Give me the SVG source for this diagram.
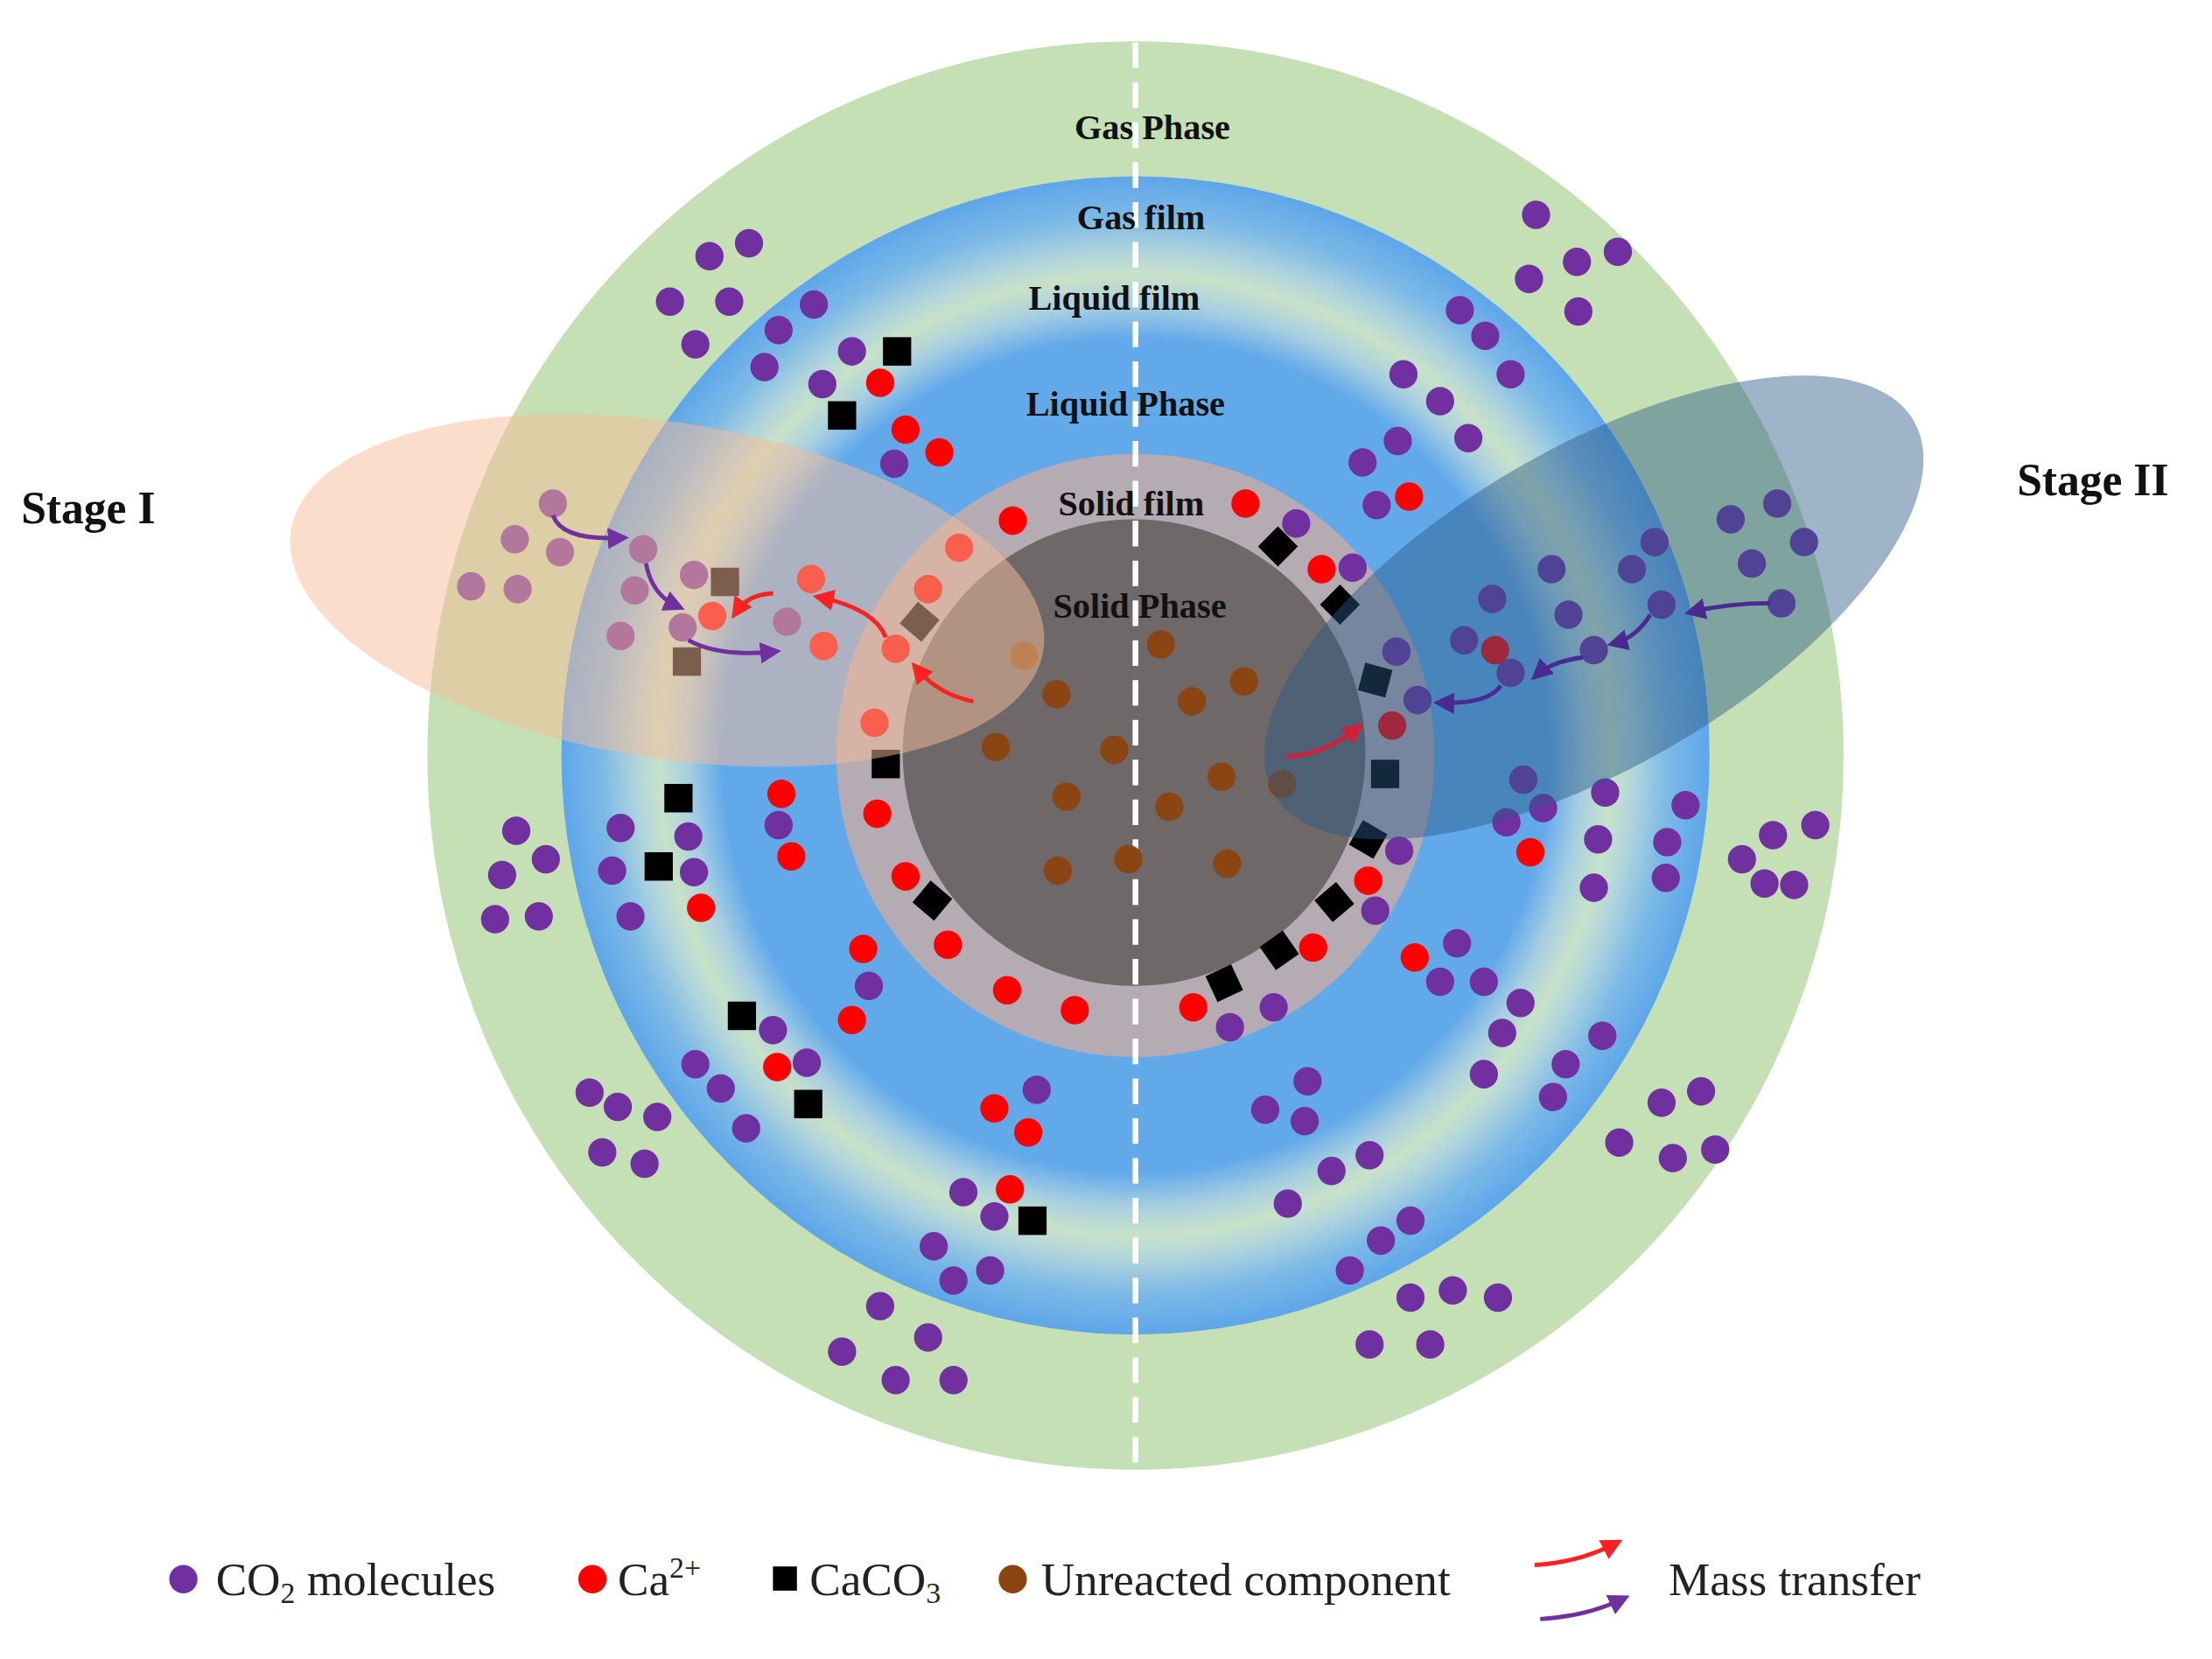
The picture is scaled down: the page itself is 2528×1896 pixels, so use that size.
<svg xmlns="http://www.w3.org/2000/svg" width="2528" height="1896" viewBox="0 0 2528 1896">
<style>
.lab{font-family:"Liberation Serif","Times New Roman",serif;font-weight:bold;font-size:25px;fill:#111;text-anchor:middle}
.stage{font-family:"Liberation Serif","Times New Roman",serif;font-weight:bold;font-size:32px;fill:#111}
.leg{font-family:"Liberation Serif","Times New Roman",serif;font-size:33px;fill:#222}
.co2{fill:#7030a0}
.ca{fill:#ff0000}
.br{fill:#8b4513}
.sq{fill:#000}
.pa{fill:none;stroke:#7030a0;stroke-width:3}
.ra{fill:none;stroke:#ff2020;stroke-width:3}
</style>
<defs>
<radialGradient id="film" gradientUnits="userSpaceOnUse" cx="805" cy="531" r="407">
<stop offset="0.72" stop-color="#62a9ea"/>
<stop offset="0.78" stop-color="#a8cfe0"/>
<stop offset="0.83" stop-color="#c8e2c8"/>
<stop offset="0.87" stop-color="#b0d4dc"/>
<stop offset="0.93" stop-color="#7cb9e6"/>
<stop offset="1" stop-color="#5ea6ea"/>
</radialGradient>
<marker id="mp" viewBox="0 0 10 10" refX="6" refY="5" markerWidth="5" markerHeight="5" orient="auto"><path d="M0,0 L10,5 L0,10 z" fill="#7030a0"/></marker>
<marker id="mq" viewBox="0 0 10 10" refX="6" refY="5" markerWidth="5" markerHeight="5" orient="auto"><path d="M0,0 L10,5 L0,10 z" fill="#4a2a90"/></marker>
<marker id="mr" viewBox="0 0 10 10" refX="6" refY="5" markerWidth="5" markerHeight="5" orient="auto"><path d="M0,0 L10,5 L0,10 z" fill="#ff2020"/></marker>
<marker id="ms" viewBox="0 0 10 10" refX="6" refY="5" markerWidth="5" markerHeight="5" orient="auto"><path d="M0,0 L10,5 L0,10 z" fill="#d0203a"/></marker>
</defs>
<rect width="2528" height="1896" fill="#fff"/>
<g transform="scale(1.612,1.626)">
<g id="rings">
<circle cx="805" cy="531" r="502" fill="#c5e0b4"/>
<circle cx="805" cy="531" r="407" fill="url(#film)"/>
<circle cx="805" cy="531" r="212" fill="#b4acb2"/>
<circle cx="804" cy="529" r="164" fill="#6e6968"/>
<line x1="805" y1="30" x2="805" y2="1032" stroke="#fff" stroke-width="4" stroke-dasharray="18,10"/>
</g>
<g id="co2">
<g class="co2">
<circle cx="503" cy="180" r="10"/><circle cx="531" cy="171" r="10"/><circle cx="475" cy="212" r="10"/><circle cx="517" cy="212" r="10"/><circle cx="493" cy="242" r="10"/><circle cx="552" cy="232" r="10"/><circle cx="577" cy="214" r="10"/><circle cx="542" cy="258" r="10"/><circle cx="604" cy="247" r="10"/><circle cx="583" cy="270" r="10"/><circle cx="634" cy="326" r="10"/>
<circle cx="366" cy="584" r="10"/><circle cx="387" cy="604" r="10"/><circle cx="356" cy="615" r="10"/><circle cx="351" cy="646" r="10"/><circle cx="382" cy="644" r="10"/><circle cx="440" cy="582" r="10"/><circle cx="488" cy="588" r="10"/><circle cx="434" cy="612" r="10"/><circle cx="492" cy="613" r="10"/><circle cx="447" cy="644" r="10"/><circle cx="552" cy="580" r="10"/><circle cx="616" cy="693" r="10"/>
<circle cx="548" cy="724" r="10"/><circle cx="572" cy="747" r="10"/><circle cx="493" cy="748" r="10"/><circle cx="511" cy="765" r="10"/><circle cx="529" cy="793" r="10"/><circle cx="418" cy="768" r="10"/><circle cx="438" cy="778" r="10"/><circle cx="466" cy="785" r="10"/><circle cx="427" cy="810" r="10"/><circle cx="457" cy="818" r="10"/><circle cx="735" cy="766" r="10"/><circle cx="683" cy="838" r="10"/><circle cx="705" cy="855" r="10"/><circle cx="662" cy="876" r="10"/><circle cx="702" cy="893" r="10"/><circle cx="676" cy="900" r="10"/><circle cx="624" cy="918" r="10"/><circle cx="658" cy="940" r="10"/><circle cx="597" cy="950" r="10"/><circle cx="635" cy="970" r="10"/><circle cx="676" cy="970" r="10"/>
<circle cx="1089" cy="151" r="10"/><circle cx="1118" cy="184" r="10"/><circle cx="1147" cy="177" r="10"/><circle cx="1084" cy="196" r="10"/><circle cx="1119" cy="219" r="10"/><circle cx="1035" cy="218" r="10"/><circle cx="1053" cy="236" r="10"/><circle cx="1071" cy="263" r="10"/><circle cx="995" cy="263" r="10"/><circle cx="1021" cy="282" r="10"/><circle cx="1041" cy="308" r="10"/><circle cx="966" cy="325" r="10"/><circle cx="991" cy="310" r="10"/><circle cx="976" cy="355" r="10"/><circle cx="919" cy="368" r="10"/><circle cx="959" cy="399" r="10"/><circle cx="990" cy="458" r="10"/><circle cx="1005" cy="492" r="10"/>
<circle cx="1058" cy="421" r="10"/><circle cx="1100" cy="400" r="10"/><circle cx="1112" cy="432" r="10"/><circle cx="1157" cy="400" r="10"/><circle cx="1173" cy="381" r="10"/><circle cx="1227" cy="365" r="10"/><circle cx="1260" cy="354" r="10"/><circle cx="1279" cy="381" r="10"/><circle cx="1242" cy="396" r="10"/><circle cx="1263" cy="424" r="10"/><circle cx="1178" cy="425" r="10"/><circle cx="1130" cy="457" r="10"/><circle cx="1071" cy="473" r="10"/><circle cx="1038" cy="450" r="10"/>
<circle cx="1080" cy="548" r="10"/><circle cx="1094" cy="568" r="10"/><circle cx="1068" cy="578" r="10"/><circle cx="1138" cy="557" r="10"/><circle cx="1133" cy="590" r="10"/><circle cx="1130" cy="624" r="10"/><circle cx="1195" cy="566" r="10"/><circle cx="1182" cy="592" r="10"/><circle cx="1181" cy="617" r="10"/><circle cx="1235" cy="604" r="10"/><circle cx="1257" cy="587" r="10"/><circle cx="1287" cy="580" r="10"/><circle cx="1251" cy="621" r="10"/><circle cx="1272" cy="622" r="10"/><circle cx="992" cy="598" r="10"/><circle cx="975" cy="640" r="10"/>
<circle cx="1033" cy="663" r="10"/><circle cx="1021" cy="690" r="10"/><circle cx="1052" cy="690" r="10"/><circle cx="1078" cy="705" r="10"/><circle cx="1065" cy="726" r="10"/><circle cx="1052" cy="755" r="10"/><circle cx="1110" cy="748" r="10"/><circle cx="1136" cy="728" r="10"/><circle cx="1101" cy="771" r="10"/><circle cx="1178" cy="775" r="10"/><circle cx="1206" cy="767" r="10"/><circle cx="1148" cy="803" r="10"/><circle cx="1186" cy="814" r="10"/><circle cx="1216" cy="808" r="10"/>
<circle cx="872" cy="722" r="10"/><circle cx="903" cy="708" r="10"/><circle cx="927" cy="760" r="10"/><circle cx="897" cy="780" r="10"/><circle cx="925" cy="788" r="10"/><circle cx="971" cy="812" r="10"/><circle cx="944" cy="823" r="10"/><circle cx="913" cy="846" r="10"/><circle cx="979" cy="872" r="10"/><circle cx="1000" cy="858" r="10"/><circle cx="957" cy="893" r="10"/><circle cx="1000" cy="912" r="10"/><circle cx="1030" cy="907" r="10"/><circle cx="1062" cy="912" r="10"/><circle cx="971" cy="945" r="10"/><circle cx="1014" cy="945" r="10"/>
<circle cx="392" cy="354" r="10"/><circle cx="365" cy="379" r="10"/><circle cx="397" cy="388" r="10"/><circle cx="334" cy="412" r="10"/><circle cx="367" cy="414" r="10"/><circle cx="456" cy="386" r="10"/><circle cx="492" cy="404" r="10"/><circle cx="450" cy="415" r="10"/><circle cx="440" cy="447" r="10"/><circle cx="484" cy="441" r="10"/><circle cx="558" cy="437" r="10"/>
</g>
</g>
<g id="ca" class="ca">
<circle cx="624" cy="269" r="10"/><circle cx="642" cy="302" r="10"/><circle cx="666" cy="318" r="10"/><circle cx="718" cy="366" r="10"/><circle cx="883" cy="354" r="10"/><circle cx="999" cy="349" r="10"/><circle cx="937" cy="400" r="10"/><circle cx="680" cy="385" r="10"/><circle cx="658" cy="414" r="10"/><circle cx="575" cy="407" r="10"/><circle cx="505" cy="433" r="10"/><circle cx="584" cy="454" r="10"/><circle cx="635" cy="456" r="10"/><circle cx="620" cy="508" r="10"/><circle cx="622" cy="572" r="10"/><circle cx="642" cy="616" r="10"/><circle cx="672" cy="664" r="10"/><circle cx="714" cy="696" r="10"/><circle cx="762" cy="710" r="10"/><circle cx="846" cy="708" r="10"/><circle cx="931" cy="666" r="10"/><circle cx="970" cy="619" r="10"/><circle cx="1060" cy="457" r="10"/><circle cx="987" cy="510" r="10"/><circle cx="1085" cy="599" r="10"/><circle cx="1003" cy="673" r="10"/><circle cx="554" cy="558" r="10"/><circle cx="561" cy="602" r="10"/><circle cx="497" cy="638" r="10"/><circle cx="612" cy="667" r="10"/><circle cx="604" cy="717" r="10"/><circle cx="551" cy="750" r="10"/><circle cx="705" cy="779" r="10"/><circle cx="729" cy="796" r="10"/><circle cx="716" cy="836" r="10"/>
</g>
<g id="caco3" class="sq">
<rect x="626" y="237" width="20" height="20"/><rect x="587" y="282" width="20" height="20"/><rect x="504" y="399" width="20" height="20"/><rect x="477" y="455" width="20" height="20"/><rect x="642" y="427" width="20" height="20" transform="rotate(40 652 437)"/><rect x="618" y="527" width="20" height="20"/><rect x="471" y="551" width="20" height="20"/><rect x="457" y="599" width="20" height="20"/><rect x="516" y="704" width="20" height="20"/><rect x="563" y="766" width="20" height="20"/><rect x="722" y="848" width="20" height="20"/>
<rect x="651" y="623" width="20" height="20" transform="rotate(40 661 633)"/><rect x="897" y="658" width="20" height="20" transform="rotate(-35 907 668)"/><rect x="858" y="681" width="20" height="20" transform="rotate(-25 868 691)"/><rect x="936" y="624" width="20" height="20" transform="rotate(-40 946 634)"/><rect x="960" y="580" width="20" height="20" transform="rotate(-60 970 590)"/><rect x="972" y="534" width="20" height="20"/><rect x="965" y="468" width="20" height="20" transform="rotate(15 975 478)"/><rect x="940" y="415" width="20" height="20" transform="rotate(45 950 425)"/><rect x="896" y="374" width="20" height="20" transform="rotate(45 906 384)"/>
</g>
<g id="unreacted" class="br">
<circle cx="823" cy="453" r="10"/><circle cx="726" cy="461" r="10"/><circle cx="749" cy="488" r="10"/><circle cx="882" cy="479" r="10"/><circle cx="845" cy="493" r="10"/><circle cx="706" cy="525" r="10"/><circle cx="790" cy="527" r="10"/><circle cx="909" cy="551" r="10"/><circle cx="866" cy="546" r="10"/><circle cx="756" cy="560" r="10"/><circle cx="829" cy="567" r="10"/><circle cx="800" cy="604" r="10"/><circle cx="750" cy="612" r="10"/><circle cx="870" cy="607" r="10"/>
</g>
<g id="labels">
<text class="lab" x="817" y="98">Gas Phase</text>
<text class="lab" x="809" y="161">Gas film</text>
<text class="lab" x="790" y="218">Liquid film</text>
<text class="lab" x="798" y="292">Liquid Phase</text>
<text class="lab" x="802" y="362">Solid film</text>
<text class="lab" x="808" y="434">Solid Phase</text>
</g>
<g id="stage1"><ellipse cx="473" cy="415" rx="270" ry="118" transform="rotate(9 473 415)" fill="#f5bc98" fill-opacity="0.5"/></g>
<g id="stage2"><ellipse cx="1130" cy="427" rx="262" ry="112" transform="rotate(-30 1130 427)" fill="#2a5884" fill-opacity="0.45"/></g>
<g id="connectors">
<path class="pa" d="M392,362 Q398,380 440,378" marker-end="url(#mp)"/>
<path class="pa" d="M458,396 Q462,418 480,426" marker-end="url(#mp)"/>
<path class="pa" d="M488,450 Q510,462 548,458" marker-end="url(#mp)"/>
<path class="ra" d="M548,417 Q530,418 522,430" marker-end="url(#mr)"/>
<path class="ra" d="M628,448 Q620,428 582,420" marker-end="url(#mr)"/>
<path class="ra" d="M690,493 Q665,488 650,470" marker-end="url(#mr)"/>
<path class="pa" style="stroke:#4a2a90" d="M1255,424 Q1225,424 1200,430" marker-end="url(#mq)"/>
<path class="pa" style="stroke:#4a2a90" d="M1170,432 Q1160,448 1145,452" marker-end="url(#mq)"/>
<path class="pa" style="stroke:#4a2a90" d="M1122,462 Q1100,465 1090,474" marker-end="url(#mq)"/>
<path class="pa" style="stroke:#4a2a90" d="M1064,482 Q1055,495 1022,494" marker-end="url(#mq)"/>
<path class="ra" style="stroke:#d0203a" d="M912,532 Q940,530 962,512" marker-end="url(#ms)"/>
</g>
<g id="stages">
<text class="stage" x="15" y="368">Stage I</text>
<text class="stage" x="1430" y="348">Stage II</text>
</g>
<g id="legend">
<circle class="co2" cx="130" cy="1110" r="10"/>
<text class="leg" x="153" y="1121">CO<tspan font-size="21" dy="6">2</tspan><tspan dy="-6"> molecules</tspan></text>
<circle class="ca" cx="420" cy="1110" r="10"/>
<text class="leg" x="438" y="1121">Ca<tspan font-size="21" dy="-12">2+</tspan></text>
<rect class="sq" x="548" y="1101" width="17" height="17"/>
<text class="leg" x="574" y="1121">CaCO<tspan font-size="21" dy="6">3</tspan></text>
<circle class="br" cx="718" cy="1110" r="10"/>
<text class="leg" x="738" y="1121">Unreacted component</text>
<path class="ra" d="M1088,1100 Q1120,1098 1145,1085" marker-end="url(#mr)"/>
<path class="pa" d="M1092,1138 Q1125,1136 1150,1124" marker-end="url(#mp)"/>
<text class="leg" x="1183" y="1121">Mass transfer</text>
</g>
</g>
</svg>
